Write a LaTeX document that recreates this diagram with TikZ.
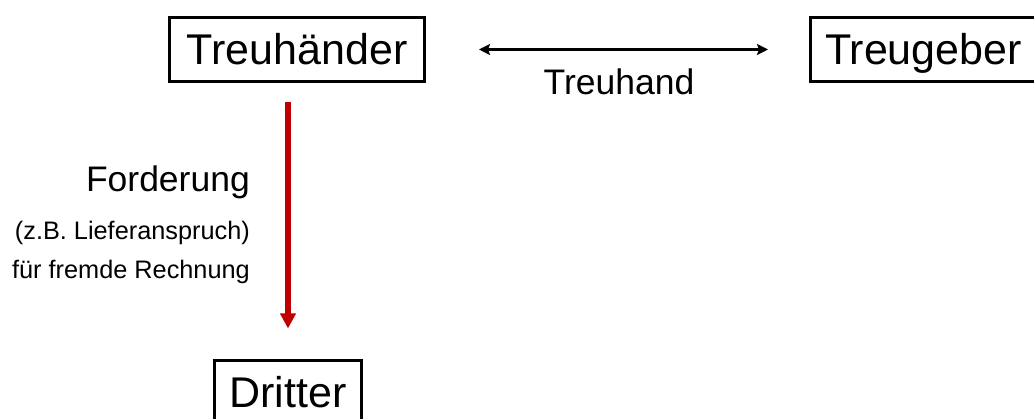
\documentclass[tikz,border=0pt]{standalone}
\usepackage{fontspec}
\setmainfont{Liberation Sans}
\usetikzlibrary{arrows.meta}
\definecolor{darkred}{HTML}{C00000}
\tikzset{
  partybox/.style={draw=black, line width=3pt, inner sep=0pt, outer sep=0pt,
    minimum height=64pt, text height=31pt, text depth=0pt,
    font=\fontsize{43}{50}\selectfont},
  biglabel/.style={inner sep=0pt, font=\fontsize{35.5}{42}\selectfont},
  smalllabel/.style={inner sep=0pt, font=\fontsize{25.3}{30}\selectfont},
  trustarrow/.style={draw=black, line width=3pt,
    {Stealth[length=11pt,width=11pt,inset=2pt]}-{Stealth[length=11pt,width=11pt,inset=2pt]}},
  claimarrow/.style={draw=darkred, line width=6pt, -{Triangle[length=15pt,width=15pt]}}
}
\begin{document}
\begin{tikzpicture}[x=1pt,y=-1pt]
\useasboundingbox (0,0) rectangle (1034,419);
\clip (0,0) rectangle (1034,419);
\fill[white] (0,0) rectangle (1034,419);
\node[partybox, minimum width=255pt] (T) at (297,49.5) {Treuhänder};
\node[partybox, inner xsep=14.5pt, text width=207pt, align=left] (G) at (928.5,49.5) {Treugeber};
\node[partybox, minimum width=147pt] (D) at (288,392.5) {Dritter};
\draw[trustarrow, shorten <=54.5pt, shorten >=42.5pt] (T.east) -- (G.west);
\node[biglabel, anchor=base] (th) at (619,95) {Treuhand};
\draw[claimarrow, shorten <=21pt, shorten >=32pt] (T.south -| D.north) -- (D.north);
\node[biglabel, anchor=base east] (f1) at (250,192) {Forderung};
\node[smalllabel, anchor=base east] (f2) at (250,240) {(z.B. Lieferanspruch)};
\node[smalllabel, anchor=base east] (f3) at (250,279) {für fremde Rechnung};
\end{tikzpicture}
\end{document}
